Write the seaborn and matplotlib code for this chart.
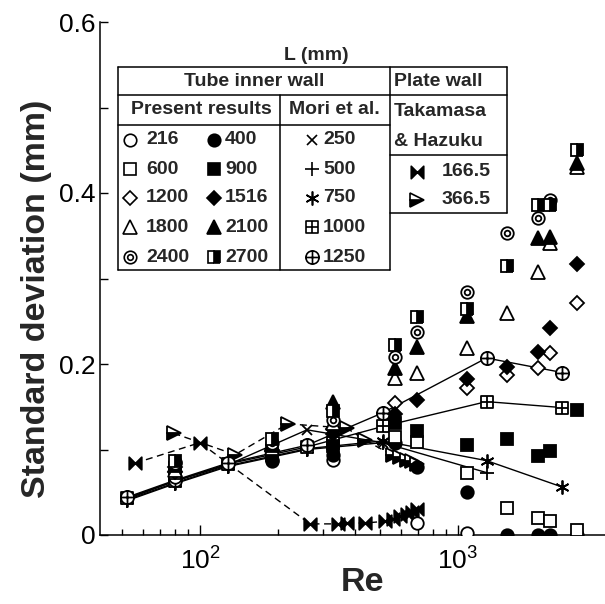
import numpy as np
import pandas as pd
import seaborn as sns
import matplotlib.pyplot as plt
from matplotlib.path import Path
from matplotlib.lines import Line2D

nan = np.nan

# ---- present results, tube inner wall (L in mm) ----
re_present = [80, 190, 328, 570, 693, 1084, 1549, 2044, 2275, 2890]
sd_216 = [0.068, 0.086, 0.088, nan, 0.014, 0.002, nan, nan, nan, nan]
sd_400 = [0.085, 0.088, 0.094, 0.108, 0.080, 0.050, 0.0, 0.0, 0.0, 0.0]
sd_600 = [0.072, 0.098, 0.108, 0.115, 0.109, 0.073, 0.032, 0.020, 0.016, 0.006]
sd_900 = [0.078, 0.094, 0.104, 0.131, 0.122, 0.105, 0.112, 0.092, 0.098, 0.146]
sd_1200 = [0.074, 0.098, 0.124, 0.154, nan, 0.172, 0.187, 0.195, 0.213, 0.271]
sd_1516 = [0.080, 0.100, 0.118, 0.142, 0.158, 0.182, 0.197, 0.214, 0.242, 0.317]
sd_1800 = [0.076, 0.102, 0.131, 0.184, 0.190, 0.219, 0.260, 0.308, 0.342, 0.430]
sd_2100 = [0.082, 0.105, 0.156, 0.195, 0.220, 0.256, nan, 0.347, 0.349, 0.435]
sd_2400 = [0.084, 0.108, 0.135, 0.208, 0.237, 0.284, 0.353, 0.371, 0.392, nan]
sd_2700 = [0.086, 0.112, 0.145, 0.222, 0.255, 0.264, 0.315, 0.386, 0.386, 0.450]

# ---- Mori et al. ----
re_mori = [52, 80, 128, 260, 512, 1290, 2540]
sd_m250 = [0.042, 0.063, 0.082, 0.123, 0.108, nan, nan]
sd_m500 = [0.040, 0.060, 0.080, 0.100, 0.108, 0.073, nan]
sd_m750 = [0.041, 0.061, 0.081, 0.101, 0.110, 0.087, 0.056]
sd_m1000 = [0.043, 0.063, 0.083, 0.103, 0.127, 0.156, 0.149]
sd_m1250 = [0.044, 0.064, 0.084, 0.105, 0.143, 0.207, 0.190]

# ---- Takamasa & Hazuku, plate wall ----
re_p166 = [56, 100, 267, 343, 371, 436, 521, 560, 596, 634, 664, 693]
sd_p166 = [0.084, 0.108, 0.013, 0.013, 0.014, 0.014, 0.016, 0.019, 0.022, 0.025, 0.027, 0.030]
re_p366 = [79, 137, 219, 371, 436, 560, 596, 634, 664, 693]
sd_p366 = [0.119, 0.094, 0.130, 0.125, 0.111, 0.093, 0.091, 0.088, 0.086, 0.083]

lab_left = ['216', '600', '1200', '1800', '2400']
lab_mid = ['400', '900', '1516', '2100', '2700']
lab_mori = ['250', '500', '750', '1000', '1250']
lab_plate = ['166.5', '366.5']

# ---- marker shapes ----
M, L, C = Path.MOVETO, Path.LINETO, Path.CLOSEPOLY
uc = Path.unit_circle()
dbl_circle = Path.make_compound_path(uc, Path(uc.vertices * 0.45, uc.codes))
cross = Path([(-1, 0), (1, 0), (0, -1), (0, 1)], [M, L, M, L])
sq_cross = Path.make_compound_path(
    Path([(-1, -1), (1, -1), (1, 1), (-1, 1), (-1, -1)], [M, L, L, L, C]), cross)
circ_cross = Path.make_compound_path(uc, cross)
bowtie = Path([(-1, 1), (-1, -1), (1, 1), (1, -1), (-1, 1)], [M, L, L, L, C])

st = {
    '216': dict(marker='o', mfc='white', ms=9),
    '400': dict(marker='o', mfc='black', ms=9),
    '600': dict(marker='s', mfc='white', ms=8.5),
    '900': dict(marker='s', mfc='black', ms=8.5),
    '1200': dict(marker='D', mfc='white', ms=7.5),
    '1516': dict(marker='D', mfc='black', ms=7.5),
    '1800': dict(marker='^', mfc='white', ms=9.5),
    '2100': dict(marker='^', mfc='black', ms=9.5),
    '2400': dict(marker=dbl_circle, mfc='white', ms=9),
    '2700': dict(marker='s', mfc='black', mfcalt='white', fillstyle='right', ms=8.5),
    '250': dict(marker='x', mfc='none', ms=7.5),
    '500': dict(marker='+', mfc='none', ms=10),
    '750': dict(marker=(6, 2, 0), mfc='none', ms=10),
    '1000': dict(marker=sq_cross, mfc='white', ms=9),
    '1250': dict(marker=circ_cross, mfc='white', ms=9.5),
    '166.5': dict(marker=bowtie, mfc='black', ms=9),
    '366.5': dict(marker='>', mfc='black', mfcalt='white', fillstyle='bottom', ms=9.5),
}

sns.set_style('ticks')
plt.rcParams['font.family'] = ['Liberation Sans', 'DejaVu Sans']
plt.rcParams['mathtext.default'] = 'regular'

fig = plt.figure(figsize=(6.05, 6.04), dpi=100)
ax = fig.add_axes([100 / 605, 69 / 604, 505 / 605, 513 / 604])
ax.set_xscale('log')


def draw(re, sd, key, line=None):
    df = pd.DataFrame({'Re': re, 'sd': sd}).dropna()
    kw = dict(st[key])
    if line is None:
        kw['linestyle'] = 'none'
    else:
        kw['linestyle'] = line
        kw['linewidth'] = 1.0
    sns.lineplot(data=df, x='Re', y='sd', ax=ax, color='k', mec='k', mew=1.3,
                 errorbar=None, legend=False, zorder=3, **kw)


dash = (0, (5, 3.3))
draw(re_p166, sd_p166, '166.5', dash)
draw(re_p366, sd_p366, '366.5', dash)
for sd, k in zip([sd_m250, sd_m500, sd_m750, sd_m1000, sd_m1250], lab_mori):
    draw(re_mori, sd, k, '-')
for sd, k in zip([sd_216, sd_400, sd_600, sd_900, sd_1200, sd_1516,
                  sd_1800, sd_2100, sd_2400, sd_2700],
                 ['216', '400', '600', '900', '1200', '1516', '1800', '2100', '2400', '2700']):
    draw(re_present, sd, k)

ax.set_xlim(41, 3713)
ax.set_ylim(0, 0.6)
ax.set_xticks([100, 1000])
ax.set_xticklabels(['$10^2$', '$10^3$'])
ax.xaxis.set_minor_formatter(plt.NullFormatter())
ax.set_yticks([0, 0.2, 0.4, 0.6])
ax.set_yticklabels(['0', '0.2', '0.4', '0.6'])
ax.set_yticks([0.1, 0.3, 0.5], minor=True)
ax.tick_params(which='both', direction='in', width=1, labelsize=19, colors='k')
ax.tick_params(axis='x', which='major', length=7, pad=9)
ax.tick_params(axis='x', which='minor', length=4)
ax.tick_params(axis='y', which='both', length=6, pad=3)
sns.despine(ax=ax)
for s in ['left', 'bottom']:
    ax.spines[s].set_linewidth(1.1)
    ax.spines[s].set_color('k')

ax.set_ylabel('Standard deviation (mm)', fontsize=24.5, fontweight='bold')
ax.yaxis.set_label_coords(-0.095, 0.46)
ax.set_xlabel('Re', fontsize=24.5, fontweight='bold')
ax.xaxis.set_label_coords(0.52, -0.062)

# ---- legend table ----
W, H = 605, 604


def fx(p):
    return p / W


def fy(p):
    return 1 - p / H


def seg(x0, y0, x1, y1):
    fig.add_artist(Line2D([fx(x0), fx(x1)], [fy(y0), fy(y1)], color='k', lw=1.1))


seg(118, 67, 507, 67)
seg(118, 67, 118, 270)
seg(118, 270, 390, 270)
seg(390, 67, 390, 270)
seg(118, 95, 507, 95)
seg(118, 125, 390, 125)
seg(280, 95, 280, 270)
seg(507, 67, 507, 213)
seg(390, 155, 507, 155)
seg(390, 213, 507, 213)

tk = dict(fontsize=14, fontweight='bold', va='center')
fig.text(fx(316), fy(55), 'L (mm)', ha='center', **tk)
fig.text(fx(254), fy(81), 'Tube inner wall', ha='center', **tk)
fig.text(fx(394), fy(81), 'Plate wall', ha='left', **tk)
fig.text(fx(201), fy(110), 'Present results', ha='center', **tk)
fig.text(fx(334), fy(110), 'Mori et al.', ha='center', **tk)
fig.text(fx(394), fy(111), 'Takamasa', ha='left', **tk)
fig.text(fx(394), fy(142), '& Hazuku', ha='left', **tk)


def key(xm, xt, y, k):
    kw = dict(st[k])
    ax.plot([fx(xm)], [fy(y)], transform=fig.transFigure, clip_on=False,
            color='k', mec='k', mew=1.2, linestyle='none', **kw)
    fig.text(fx(xt), fy(y), k, ha='left', **tk)


rows_y = [140, 169, 198, 227, 257]
for y, a, b, c in zip(rows_y, lab_left, lab_mid, lab_mori):
    key(130, 146, y, a)
    key(214, 225, y, b)
    key(312, 323, y, c)
key(417, 442, 172, lab_plate[0])
key(417, 442, 200, lab_plate[1])

fig.savefig('out.png', dpi=100)
